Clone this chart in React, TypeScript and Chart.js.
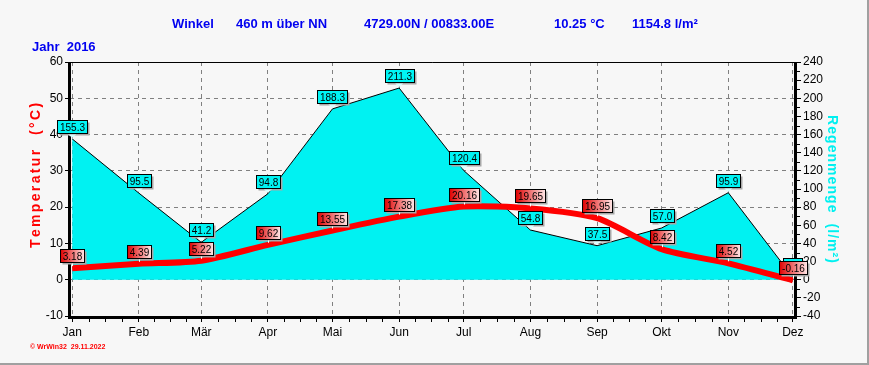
import React, { useEffect, useRef } from "react";
import { Chart, registerables } from "chart.js";

Chart.register(...registerables);

const MONTHS = ["Jan", "Feb", "Mär", "Apr", "Mai", "Jun", "Jul", "Aug", "Sep", "Okt", "Nov", "Dez"];
const MONTH_START_DAYS = [0, 31, 60, 91, 121, 152, 182, 213, 244, 274, 305, 335];
const TEMPERATURE = [3.18, 4.39, 5.22, 9.62, 13.55, 17.38, 20.16, 19.65, 16.95, 8.42, 4.52, -0.16];
const RAIN = [155.3, 95.5, 41.2, 94.8, 188.3, 211.3, 120.4, 54.8, 37.5, 57.0, 95.9, 2.8];
const TEMP_AXIS = { min: -10, max: 60, step: 10 };
const RAIN_AXIS = { min: -40, max: 240, step: 20 };

const TITLE_PARTS: [string, number][] = [
  ["Winkel", 172],
  ["460 m über NN", 236],
  ["4729.00N / 00833.00E", 364],
  ["10.25 °C", 554],
  ["1154.8 l/m²", 632],
];
const YEAR_LABEL = "Jahr  2016";
const FOOTER = "© WrWin32  29.11.2022";
const LEFT_TITLE = "Temperatur  (°C)";
const RIGHT_TITLE = "Regenmenge  (l/m²)";

const FONT = 'Arial, "Liberation Sans", sans-serif';

function drawSpaced(ctx: CanvasRenderingContext2D, text: string, target: number) {
  const natural = ctx.measureText(text).width;
  const sp = (target - natural) / Math.max(1, text.length - 1);
  let x = -target / 2;
  for (const ch of text) {
    ctx.fillText(ch, x, 0);
    x += ctx.measureText(ch).width + sp;
  }
}

function drawLabel(ctx: CanvasRenderingContext2D, x: number, y: number, text: string, kind: "rain" | "temp") {
  ctx.save();
  ctx.font = `10px ${FONT}`;
  const w = Math.round(ctx.measureText(text).width + 5);
  const h = 13;
  const bx = Math.round(x - w / 2) + 0.5;
  const by = Math.round(y - 6 - h) + 0.5;
  ctx.fillStyle = "#a8a8a8";
  ctx.fillRect(bx + 2, by + 2, w, h);
  if (kind === "temp") {
    const g = ctx.createLinearGradient(bx, 0, bx + w, 0);
    g.addColorStop(0, "#e00000");
    g.addColorStop(1, "#ffe8e8");
    ctx.fillStyle = g;
  } else {
    ctx.fillStyle = "#00f4f4";
  }
  ctx.fillRect(bx, by, w, h);
  ctx.strokeStyle = "#000";
  ctx.lineWidth = 1;
  ctx.strokeRect(bx, by, w, h);
  if (kind === "temp") {
    ctx.strokeStyle = "#ffffff";
    ctx.beginPath();
    ctx.moveTo(Math.round(x) + 0.5, by + h + 1);
    ctx.lineTo(Math.round(x) + 0.5, y - 2);
    ctx.stroke();
  } else {
    ctx.fillStyle = "#d8ffff";
    ctx.beginPath();
    ctx.moveTo(x - 4, by + h + 1);
    ctx.lineTo(x + 4, by + h + 1);
    ctx.lineTo(x, y - 1);
    ctx.closePath();
    ctx.fill();
  }
  ctx.fillStyle = "#000";
  ctx.textAlign = "center";
  ctx.textBaseline = "middle";
  ctx.fillText(text, bx + w / 2, by + h / 2 + 1);
  ctx.restore();
}

const decorPlugin = {
  id: "decor",
  beforeDraw(chart: any) {
    const ctx = chart.ctx as CanvasRenderingContext2D;
    ctx.save();
    ctx.fillStyle = "#f7f7f7";
    ctx.fillRect(0, 0, chart.width, chart.height);
    ctx.fillStyle = "#a0a0a0";
    ctx.fillRect(0, chart.height - 2, chart.width, 2);
    ctx.fillRect(chart.width - 2, 0, 2, chart.height);
    ctx.restore();
  },
  afterDraw(chart: any) {
    const ctx = chart.ctx as CanvasRenderingContext2D;
    const a = chart.chartArea;
    const xs = chart.scales.x;
    const y2 = chart.scales.y2;
    ctx.save();
    ctx.strokeStyle = "#000";
    ctx.lineWidth = 1;
    ctx.beginPath();
    ctx.moveTo(a.left, a.top + 0.5);
    ctx.lineTo(a.right, a.top + 0.5);
    ctx.stroke();
    ctx.lineWidth = 3;
    ctx.beginPath();
    ctx.moveTo(a.left - 0.5, a.top);
    ctx.lineTo(a.left - 0.5, a.bottom + 1.5);
    ctx.lineTo(a.right + 0.5, a.bottom + 1.5);
    ctx.lineTo(a.right + 0.5, a.top);
    ctx.stroke();
    ctx.lineWidth = 1;
    ctx.beginPath();
    for (let v = RAIN_AXIS.min + 10; v < RAIN_AXIS.max; v += 20) {
      const py = Math.round(y2.getPixelForValue(v)) + 0.5;
      ctx.moveTo(a.right + 2, py);
      ctx.lineTo(a.right + 5, py);
    }
    for (let i = 0; i < MONTH_START_DAYS.length - 1; i++) {
      const d0 = MONTH_START_DAYS[i];
      const d1 = MONTH_START_DAYS[i + 1];
      for (let k = 1; k < 4; k++) {
        const px = Math.round(xs.getPixelForValue(d0 + ((d1 - d0) * k) / 4)) + 0.5;
        ctx.moveTo(px, a.bottom + 3);
        ctx.lineTo(px, a.bottom + 6);
      }
    }
    ctx.stroke();
    const rainMeta = chart.getDatasetMeta(1);
    const tempMeta = chart.getDatasetMeta(0);
    RAIN.forEach((v, i) => {
      const p = rainMeta.data[i];
      drawLabel(ctx, p.x, p.y, v.toFixed(1), "rain");
    });
    TEMPERATURE.forEach((v, i) => {
      const p = tempMeta.data[i];
      drawLabel(ctx, p.x, p.y, v.toFixed(2), "temp");
    });
    ctx.fillStyle = "#0000f0";
    ctx.font = `bold 13px ${FONT}`;
    ctx.textBaseline = "middle";
    ctx.textAlign = "left";
    TITLE_PARTS.forEach(([t, x]) => ctx.fillText(t, x, 24));
    ctx.font = `bold 13px ${FONT}`;
    ctx.fillText(YEAR_LABEL, 32, 47);
    ctx.fillStyle = "#ff0000";
    ctx.font = `bold 7px ${FONT}`;
    ctx.fillText(FOOTER, 30, 347);
    ctx.font = `bold 14px ${FONT}`;
    ctx.textAlign = "left";
    ctx.save();
    ctx.fillStyle = "#ff0000";
    ctx.translate(36, 176);
    ctx.rotate(-Math.PI / 2);
    drawSpaced(ctx, LEFT_TITLE, 144);
    ctx.restore();
    ctx.save();
    ctx.fillStyle = "#00f0f0";
    ctx.translate(832, 189);
    ctx.rotate(Math.PI / 2);
    drawSpaced(ctx, RIGHT_TITLE, 148);
    ctx.restore();
    ctx.restore();
  },
};

export default function App() {
  const ref = useRef<HTMLCanvasElement>(null);
  useEffect(() => {
    document.body.style.margin = "0";
    const canvas = ref.current!;
    const tickFont = { family: FONT, size: 12 };
    const chart = new Chart(canvas, {
      type: "line",
      data: {
        datasets: [
          {
            label: "Temperatur",
            data: MONTH_START_DAYS.map((d, i) => ({ x: d, y: TEMPERATURE[i] })),
            borderColor: "#ff0000",
            borderWidth: 6,
            tension: 0.25,
            pointRadius: 0,
            fill: false,
            yAxisID: "y",
            order: 0,
          },
          {
            label: "Regenmenge",
            data: MONTH_START_DAYS.map((d, i) => ({ x: d, y: RAIN[i] })),
            borderColor: "#000000",
            borderWidth: 1,
            backgroundColor: "#00f2f2",
            tension: 0,
            pointRadius: 0,
            fill: "origin",
            yAxisID: "y2",
            order: 1,
          },
        ],
      },
      options: {
        animation: false,
        responsive: false,
        layout: { padding: { top: 62, left: 0, right: 0, bottom: 0 } },
        plugins: { legend: { display: false }, tooltip: { enabled: false }, title: { display: false } },
        scales: {
          x: {
            type: "linear",
            min: -1,
            max: 336,
            afterBuildTicks: (s: any) => {
              s.ticks = MONTH_START_DAYS.map((v) => ({ value: v }));
            },
            afterFit: (s: any) => {
              s.height = 49;
            },
            ticks: {
              callback: (v: any) => {
                const i = MONTH_START_DAYS.indexOf(Number(v));
                return i >= 0 ? MONTHS[i] : "";
              },
              color: "#000",
              font: tickFont,
              maxRotation: 0,
              autoSkip: false,
              padding: 3,
            },
            grid: { color: "#808080", tickColor: "#000", tickLength: 6, lineWidth: 1 },
            border: { display: false, dash: [4, 4] },
          },
          y: {
            position: "left",
            min: TEMP_AXIS.min,
            max: TEMP_AXIS.max,
            afterFit: (s: any) => {
              s.width = 70;
            },
            ticks: { stepSize: TEMP_AXIS.step, color: "#000", font: tickFont, padding: 2 },
            grid: { color: "#808080", tickColor: "#000", tickLength: 5, lineWidth: 1 },
            border: { display: false, dash: [4, 4] },
          },
          y2: {
            position: "right",
            min: RAIN_AXIS.min,
            max: RAIN_AXIS.max,
            afterFit: (s: any) => {
              s.width = 74;
            },
            ticks: { stepSize: RAIN_AXIS.step, color: "#000", font: tickFont, padding: 2 },
            grid: { drawOnChartArea: false, color: "#000", tickColor: "#000", tickLength: 6, lineWidth: 1 },
            border: { display: false },
          },
        },
      },
      plugins: [decorPlugin],
    } as any);
    return () => chart.destroy();
  }, []);
  return <canvas ref={ref} width={869} height={365} style={{ display: "block" }} />;
}
